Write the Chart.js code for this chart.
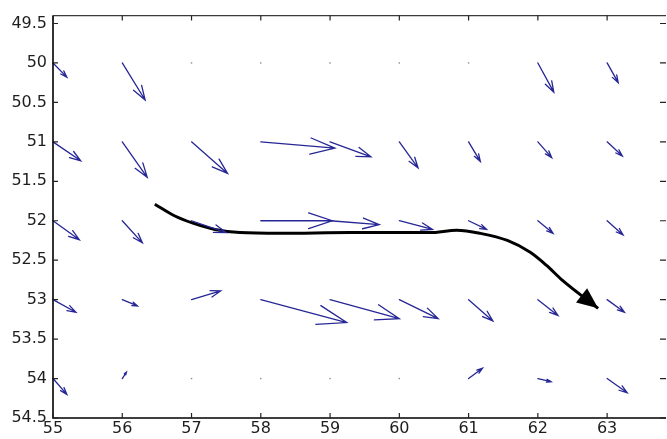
<!DOCTYPE html>
<html>
<head>
<meta charset="utf-8">
<script src="https://cdn.jsdelivr.net/npm/chart.js@4.4.0/dist/chart.umd.min.js"></script>
<style>
  html, body { margin: 0; padding: 0; background: #fff; }
  #caixa { width: 667px; height: 439px; }
</style>
</head>
<body>
<div id="caixa"><canvas id="grafico"></canvas></div>
<script>
// grade dos vetores
const gradeX = [55, 56, 57, 58, 59, 60, 61, 62, 63];
const gradeY = [50, 51, 52, 53, 54];

// componente u (para a direita) de cada linha
const u50 = [0.20, 0.33, 0, 0, 0, 0, 0, 0.23, 0.16];
const u51 = [0.40, 0.36, 0.52, 1.07, 0.59, 0.27, 0.17, 0.20, 0.22];
const u52 = [0.38, 0.29, 0.50, 1.03, 0.71, 0.48, 0.26, 0.22, 0.23];
const u53 = [0.33, 0.22, 0.42, 1.24, 1.00, 0.56, 0.35, 0.29, 0.25];
const u54 = [0.20, 0.06, 0, 0, 0, 0, 0.20, 0.19, 0.29];

// componente v (eixo y invertido: positivo aponta para baixo)
const v50 = [0.18, 0.47, 0, 0, 0, 0, 0, 0.37, 0.25];
const v51 = [0.24, 0.45, 0.40, 0.08, 0.19, 0.33, 0.25, 0.20, 0.18];
const v52 = [0.24, 0.28, 0.15, 0, 0.05, 0.11, 0.11, 0.16, 0.18];
const v53 = [0.16, 0.08, -0.11, 0.29, 0.24, 0.24, 0.27, 0.20, 0.16];
const v54 = [0.20, -0.08, 0, 0, 0, 0, -0.13, 0.04, 0.18];

const linhasU = [u50, u51, u52, u53, u54];
const linhasV = [v50, v51, v52, v53, v54];

// trajetória (seta preta)
const trajetoX = [56.47, 56.76, 57.02, 57.34, 57.70, 58.28, 59.29, 60.44, 60.83, 61.17, 61.56, 61.89, 62.13, 62.36, 62.87];
const trajetoY = [51.79, 51.94, 52.03, 52.11, 52.15, 52.16, 52.15, 52.15, 52.12, 52.16, 52.25, 52.40, 52.57, 52.76, 53.11];

// rótulos dos eixos
const ticksX = [55, 56, 57, 58, 59, 60, 61, 62, 63];
const ticksY = [49.5, 50, 50.5, 51, 51.5, 52, 52.5, 53, 53.5, 54, 54.5];

const corSeta = '#262696';

// 1. Plugin das setas (quiver) e da moldura
const pluginQuiver = {
    id: 'quiver',
    afterDatasetsDraw(chart) {
        const ctx = chart.ctx;
        const sx = chart.scales.x, sy = chart.scales.y;
        ctx.save();
        ctx.lineCap = 'round';
        gradeY.forEach((gy, i) => {
            gradeX.forEach((gx, j) => {
                const u = linhasU[i][j], v = linhasV[i][j];
                const x0 = sx.getPixelForValue(gx), y0 = sy.getPixelForValue(gy);
                if (u === 0 && v === 0) {
                    ctx.fillStyle = '#8a8a8a';
                    ctx.fillRect(x0 - 0.7, y0 - 0.7, 1.4, 1.4);
                    return;
                }
                const x1 = sx.getPixelForValue(gx + u), y1 = sy.getPixelForValue(gy + v);
                const dx = x1 - x0, dy = y1 - y0;
                const a = 0.33, b = 0.33;
                ctx.strokeStyle = corSeta;
                ctx.lineWidth = 1.3;
                ctx.beginPath();
                ctx.moveTo(x0, y0);
                ctx.lineTo(x1, y1);
                ctx.moveTo(x1 - a * (dx + b * dy), y1 - a * (dy - b * dx));
                ctx.lineTo(x1, y1);
                ctx.lineTo(x1 - a * (dx - b * dy), y1 - a * (dy + b * dx));
                ctx.stroke();
            });
        });

        // ponta da trajetória
        const n = trajetoX.length;
        const px = sx.getPixelForValue(trajetoX[n - 1]), py = sy.getPixelForValue(trajetoY[n - 1]);
        const qx = sx.getPixelForValue(trajetoX[n - 2]), qy = sy.getPixelForValue(trajetoY[n - 2]);
        const ang = Math.atan2(py - qy, px - qx);
        const comp = 21, larg = 9;
        ctx.fillStyle = '#000';
        ctx.beginPath();
        ctx.moveTo(px, py);
        ctx.lineTo(px - comp * Math.cos(ang) + larg * Math.sin(ang), py - comp * Math.sin(ang) - larg * Math.cos(ang));
        ctx.lineTo(px - comp * Math.cos(ang) - larg * Math.sin(ang), py - comp * Math.sin(ang) + larg * Math.cos(ang));
        ctx.closePath();
        ctx.fill();

        // moldura com ticks para dentro (estilo MATLAB)
        const area = chart.chartArea;
        ctx.lineCap = 'butt';
        ctx.strokeStyle = '#000';
        ctx.lineWidth = 1.6;
        ctx.beginPath();
        ctx.moveTo(area.left, area.top);
        ctx.lineTo(area.left, area.bottom);
        ctx.lineTo(area.right, area.bottom);
        ctx.stroke();
        ctx.strokeStyle = '#3a3a3a';
        ctx.lineWidth = 1.4;
        ctx.beginPath();
        ctx.moveTo(area.left, area.top);
        ctx.lineTo(area.right, area.top);
        ctx.stroke();

        ctx.lineWidth = 1.2;
        ctx.strokeStyle = '#222';
        ctx.beginPath();
        ticksX.forEach(t => {
            const x = sx.getPixelForValue(t);
            ctx.moveTo(x, area.bottom); ctx.lineTo(x, area.bottom - 5);
            ctx.moveTo(x, area.top); ctx.lineTo(x, area.top + 5);
        });
        ticksY.forEach(t => {
            const y = sy.getPixelForValue(t);
            ctx.moveTo(area.left, y); ctx.lineTo(area.left + 5, y);
            ctx.moveTo(area.right, y); ctx.lineTo(area.right - 6, y);
        });
        ctx.stroke();
        ctx.restore();
    }
};

// 2. Gráfico
const pontosTrajeto = trajetoX.map((x, i) => ({ x: x, y: trajetoY[i] }));

new Chart(document.getElementById('grafico'), {
    type: 'scatter',
    data: {
        datasets: [{
            data: pontosTrajeto,
            showLine: true,
            borderColor: '#000',
            borderWidth: 3,
            pointRadius: 0,
            cubicInterpolationMode: 'monotone'
        }]
    },
    options: {
        responsive: true,
        maintainAspectRatio: false,
        animation: false,
        layout: { padding: { top: 14, right: 1, left: 0, bottom: 0 } },
        plugins: { legend: { display: false }, tooltip: { enabled: false } },
        scales: {
            x: {
                type: 'linear',
                min: 55,
                max: 63.85,
                grid: { display: false, drawTicks: false },
                border: { display: false },
                afterBuildTicks: eixo => { eixo.ticks = ticksX.map(v => ({ value: v })); },
                afterFit: eixo => { eixo.height = 21; },
                ticks: {
                    padding: 1,
                    color: '#1e1e1e',
                    font: { family: 'DejaVu Sans', size: 16 },
                    maxRotation: 0,
                    callback: v => String(v)
                }
            },
            y: {
                type: 'linear',
                reverse: true,
                min: 49.4,
                max: 54.5,
                grid: { display: false, drawTicks: false },
                border: { display: false },
                afterBuildTicks: eixo => { eixo.ticks = ticksY.map(v => ({ value: v })); },
                afterFit: eixo => { eixo.width = 53; },
                ticks: {
                    padding: 6,
                    color: '#1e1e1e',
                    font: { family: 'DejaVu Sans', size: 16 },
                    callback: v => String(v)
                }
            }
        }
    },
    plugins: [pluginQuiver]
});
</script>
</body>
</html>
